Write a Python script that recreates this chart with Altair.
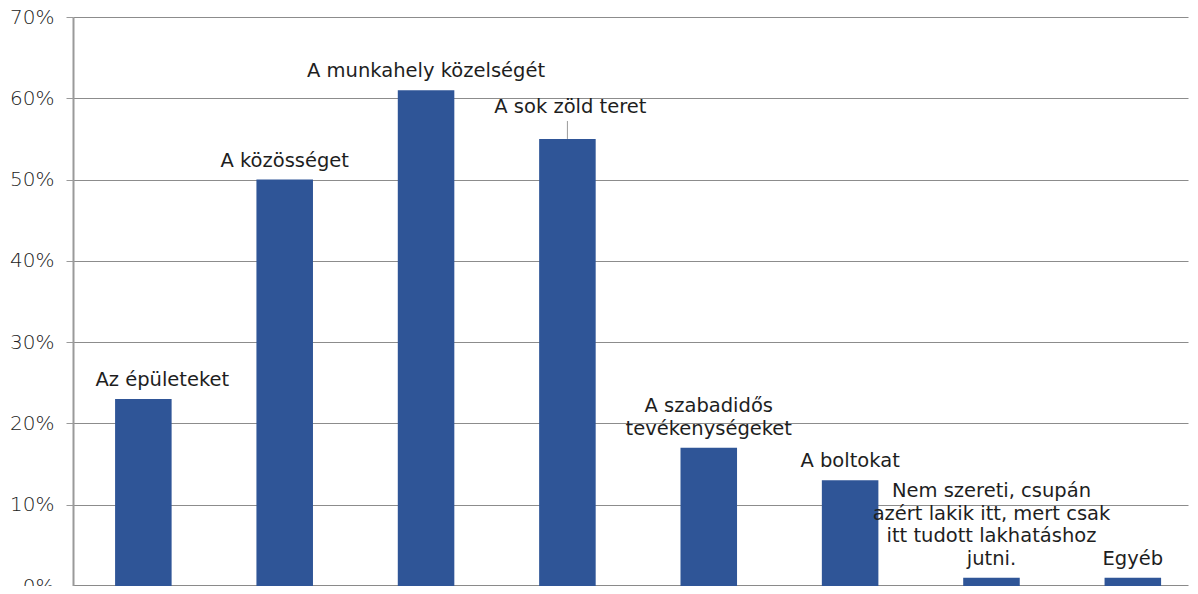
import altair as alt
import pandas as pd

categories = [
    "Az épületeket",
    "A közösséget",
    "A munkahely közelségét",
    "A sok zöld teret",
    "A szabadidős\ntevékenységeket",
    "A boltokat",
    "Nem szereti, csupán\nazért lakik itt, mert csak\nitt tudott lakhatáshoz\njutni.",
    "Egyéb",
]
values = [0.23, 0.50, 0.61, 0.55, 0.17, 0.13, 0.01, 0.01]
y_ticks = [0.0, 0.1, 0.2, 0.3, 0.4, 0.5, 0.6, 0.7]

df = pd.DataFrame({"cat": categories, "value": values, "idx": list(range(len(categories)))})

FONT = "DejaVu Sans"
LH = 22.5

x_enc = alt.X(
    "cat:N",
    sort=categories,
    scale=alt.Scale(paddingInner=0.6, paddingOuter=0.244, align=0.61),
    axis=alt.Axis(labels=False, ticks=False, title=None, domainColor="#8a8a8a", domainWidth=3),
)
y_enc = alt.Y(
    "value:Q",
    scale=alt.Scale(domain=[0, 0.7], nice=False),
    axis=alt.Axis(
        format=".0%",
        values=y_ticks,
        grid=True,
        gridColor="#8c8c8c",
        gridWidth=1,
        domainColor="#9a9a9a",
        domainWidth=2,
        tickColor="#9a9a9a",
        tickSize=7,
        labelFontSize=20,
        labelFont=FONT,
        labelFontWeight=300,
        labelColor="#222222",
        labelPadding=12,
        title=None,
    ),
)

base = alt.Chart(df).transform_calculate(nlines="length(split(datum.cat, '\\n'))")

bars = base.mark_bar(color="#2F5597").encode(x=x_enc, y=y_enc)

text_style = dict(baseline="bottom", fontSize=19.5, font=FONT, color="#1e1e1e", lineBreak="\n", lineHeight=LH)


def label_layer(cond, dy, dx=0):
    return (
        base.transform_filter(cond)
        .mark_text(dy=dy, dx=dx, **text_style)
        .encode(x=x_enc, y=y_enc, text="cat:N")
    )


labels_one = label_layer("datum.nlines == 1 && datum.idx != 0 && datum.idx != 3", -9)
label_first = label_layer("datum.idx == 0", -9, 19)
label_green = label_layer("datum.idx == 3", -22, 3)
labels_two = label_layer("datum.nlines == 2", -9 - LH)
labels_four = label_layer("datum.nlines == 4", -9 - 3 * LH)

leader = (
    base.transform_filter("datum.idx == 3")
    .transform_calculate(top="datum.value + 0.022")
    .mark_rule(color="#9a9a9a", strokeWidth=1)
    .encode(x=x_enc, y=y_enc, y2="top:Q")
)

chart = (
    alt.layer(bars, leader, labels_one, label_first, label_green, labels_two, labels_four)
    .properties(
        width=1115,
        height=569,
        autosize=alt.AutoSizeParams(type="none"),
        padding={"left": 65, "top": 9, "right": 2, "bottom": 0},
        background="#ffffff",
    )
    .configure_view(stroke=None)
)

chart.save("out.html", embed_options={"renderer": "svg", "actions": False})
